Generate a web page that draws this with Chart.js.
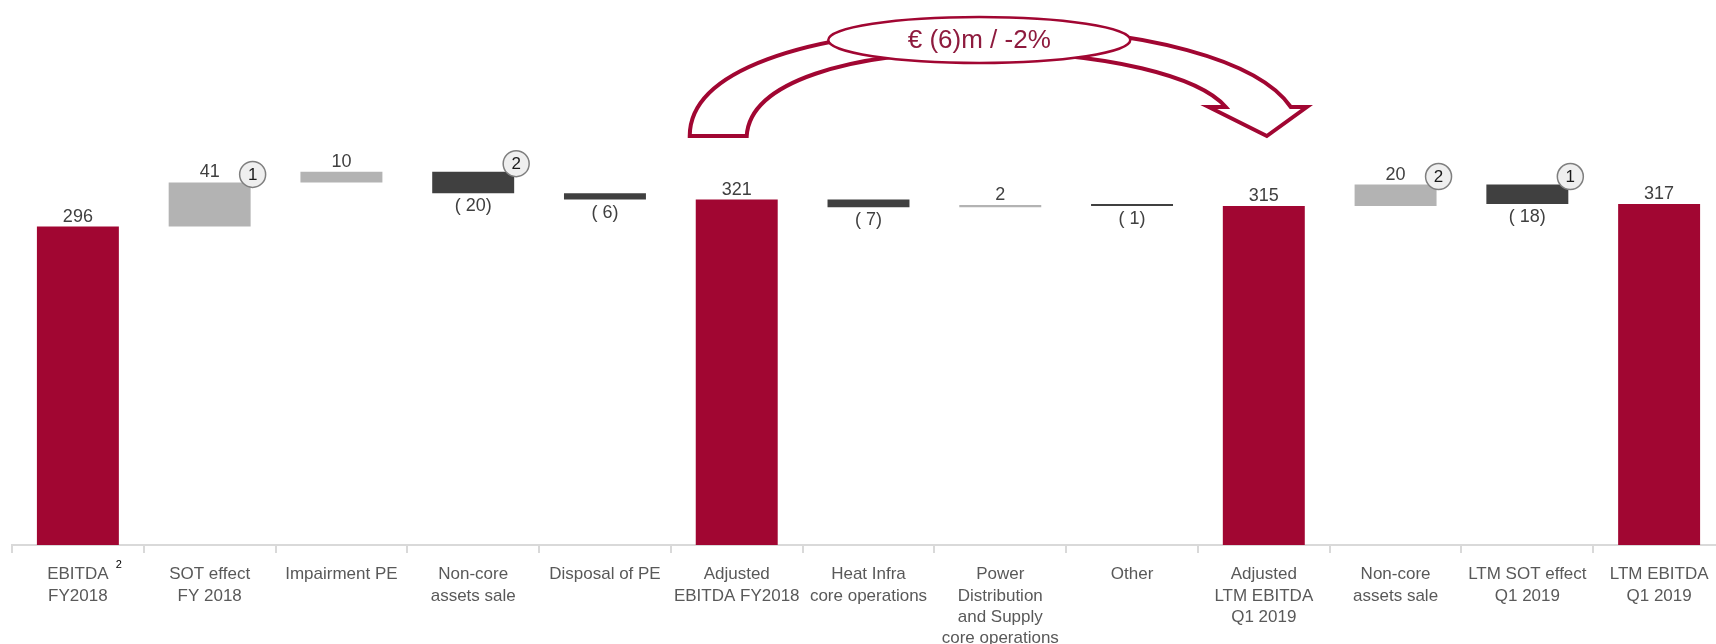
<!DOCTYPE html>
<html>
<head>
<meta charset="utf-8">
<script src="https://cdn.jsdelivr.net/npm/chart.js@4.4.1/dist/chart.umd.min.js"></script>
<style>
  html, body { margin: 0; padding: 0; background: #ffffff; overflow: hidden; }
  #wrap { width: 1716px; height: 644px; overflow: hidden; position: relative; }
  canvas { display: block; }
</style>
</head>
<body>
<div id="wrap"><canvas id="c" width="1725" height="644" style="width:1725px;height:644px"></canvas></div>
<script>
// ---- data ----
const categories = [
  ["EBITDA", "FY2018"],
  ["SOT effect", "FY 2018"],
  ["Impairment PE"],
  ["Non-core", "assets sale"],
  ["Disposal of PE"],
  ["Adjusted", "EBITDA FY2018"],
  ["Heat Infra", "core operations"],
  ["Power", "Distribution", "and Supply", "core operations"],
  ["Other"],
  ["Adjusted", "LTM EBITDA", "Q1 2019"],
  ["Non-core", "assets sale"],
  ["LTM SOT effect", "Q1 2019"],
  ["LTM EBITDA", "Q1 2019"]
];
const values = [296, 41, 10, -20, -6, 321, -7, 2, -1, 315, 20, -18, 317];
const isTotal = [true, false, false, false, false, true, false, false, false, true, false, false, true];
const badges = [null, "1", null, "2", null, null, null, null, null, null, "2", "1", null];
const footnoteIndex = 0;
const footnoteText = "2";
const bridgeText = "€ (6)m / -2%";
const bridgeFrom = 5;
const bridgeTo = 9;

// ---- colours ----
const TOTAL = "#A10632";
const UP = "#B3B3B3";
const DOWN = "#404040";

// build floating ranges from the values
const ranges = [];
const colors = [];
let running = 0;
values.forEach((v, i) => {
  if (isTotal[i]) {
    ranges.push([0, v]);
    running = v;
    colors.push(TOTAL);
  } else {
    ranges.push([running, running + v]);
    running += v;
    colors.push(v >= 0 ? UP : DOWN);
  }
});

const FONT = '"Liberation Sans", Arial, sans-serif';

const overlay = {
  id: "overlay",
  afterDatasetsDraw(chart) {
    const ctx = chart.ctx;
    const meta = chart.getDatasetMeta(0);
    const xs = chart.scales.x;
    ctx.save();
    meta.data.forEach((bar, i) => {
      const p = bar.getProps(["x", "y", "base", "width"], true);
      const top = Math.min(p.y, p.base);
      const bottom = Math.max(p.y, p.base);
      ctx.font = "18px " + FONT;
      ctx.fillStyle = "#404040";
      ctx.textAlign = "center";
      if (values[i] >= 0) {
        ctx.textBaseline = "alphabetic";
        ctx.fillText(String(values[i]), p.x, top - 5);
      } else {
        ctx.textBaseline = "top";
        ctx.fillText("( " + Math.abs(values[i]) + ")", p.x, bottom + 4);
      }
      if (badges[i]) {
        const bx = p.x + p.width / 2 + 2;
        const by = top - 8;
        ctx.beginPath();
        ctx.arc(bx, by, 13, 0, Math.PI * 2);
        ctx.fillStyle = "#EFEFEF";
        ctx.fill();
        ctx.lineWidth = 1.5;
        ctx.strokeStyle = "#7F7F7F";
        ctx.stroke();
        ctx.fillStyle = "#1A1A1A";
        ctx.font = "17px " + FONT;
        ctx.textBaseline = "middle";
        ctx.fillText(badges[i], bx, by + 1);
      }
    });

    // footnote superscript on first category label
    const fx = xs.getPixelForValue(footnoteIndex);
    ctx.font = "11px " + FONT;
    ctx.fillStyle = "#000000";
    ctx.textAlign = "center";
    ctx.textBaseline = "middle";
    ctx.fillText(footnoteText, fx + 41, 565);

    // curved bridge arrow
    const pL = xs.getPixelForValue(bridgeFrom);
    const pR = xs.getPixelForValue(bridgeTo);
    const ecx = (pL + pR) / 2 - 21;
    const ecy = 40;
    const yb = 136;
    const yh = 107;
    ctx.beginPath();
    ctx.moveTo(pL - 47, yb);
    ctx.bezierCurveTo(pL - 47, 72, pL + 63, 32, ecx, 27);
    ctx.bezierCurveTo(ecx + 170, 27, pR - 4, 62, pR + 27, yh);
    ctx.lineTo(pR + 43, yh);
    ctx.lineTo(pR + 3, yb);
    ctx.lineTo(pR - 55, yh);
    ctx.lineTo(pR - 38, yh);
    ctx.bezierCurveTo(pR - 64, 77, ecx + 130, 52, ecx, 52);
    ctx.bezierCurveTo(ecx - 130, 52, pL + 13, 82, pL + 10, yb);
    ctx.closePath();
    ctx.fillStyle = "#ffffff";
    ctx.fill();
    ctx.lineWidth = 4;
    ctx.lineJoin = "miter";
    ctx.strokeStyle = TOTAL;
    ctx.stroke();

    ctx.beginPath();
    ctx.ellipse(ecx, ecy, 151, 23, 0, 0, Math.PI * 2);
    ctx.fillStyle = "#ffffff";
    ctx.fill();
    ctx.lineWidth = 2.5;
    ctx.strokeStyle = TOTAL;
    ctx.stroke();

    ctx.font = "26px " + FONT;
    ctx.fillStyle = "#8E1B3E";
    ctx.textAlign = "center";
    ctx.textBaseline = "middle";
    ctx.fillText(bridgeText, ecx, ecy + 1);
    ctx.restore();
  }
};

new Chart(document.getElementById("c"), {
  type: "bar",
  data: {
    labels: categories,
    datasets: [{
      data: ranges,
      backgroundColor: colors,
      borderWidth: 0,
      categoryPercentage: 1,
      barPercentage: 0.622,
      minBarLength: 2
    }]
  },
  options: {
    responsive: false,
    devicePixelRatio: 1,
    animation: false,
    layout: { padding: { left: 12, top: 7, right: 0, bottom: 0 } },
    plugins: {
      legend: { display: false },
      tooltip: { enabled: false },
      title: { display: false }
    },
    scales: {
      y: {
        display: false,
        min: 0,
        max: 500
      },
      x: {
        offset: true,
        afterFit(scale) { scale.height = 99; },
        border: { display: true, color: "#D9D9D9", width: 2 },
        grid: {
          offset: true,
          drawOnChartArea: false,
          drawTicks: true,
          tickLength: 8,
          color: "#D9D9D9",
          lineWidth: 2
        },
        ticks: {
          padding: 11,
          color: "#595959",
          font: { family: FONT, size: 17, lineHeight: 1.25 },
          maxRotation: 0,
          autoSkip: false
        }
      }
    }
  },
  plugins: [overlay]
});
</script>
</body>
</html>
